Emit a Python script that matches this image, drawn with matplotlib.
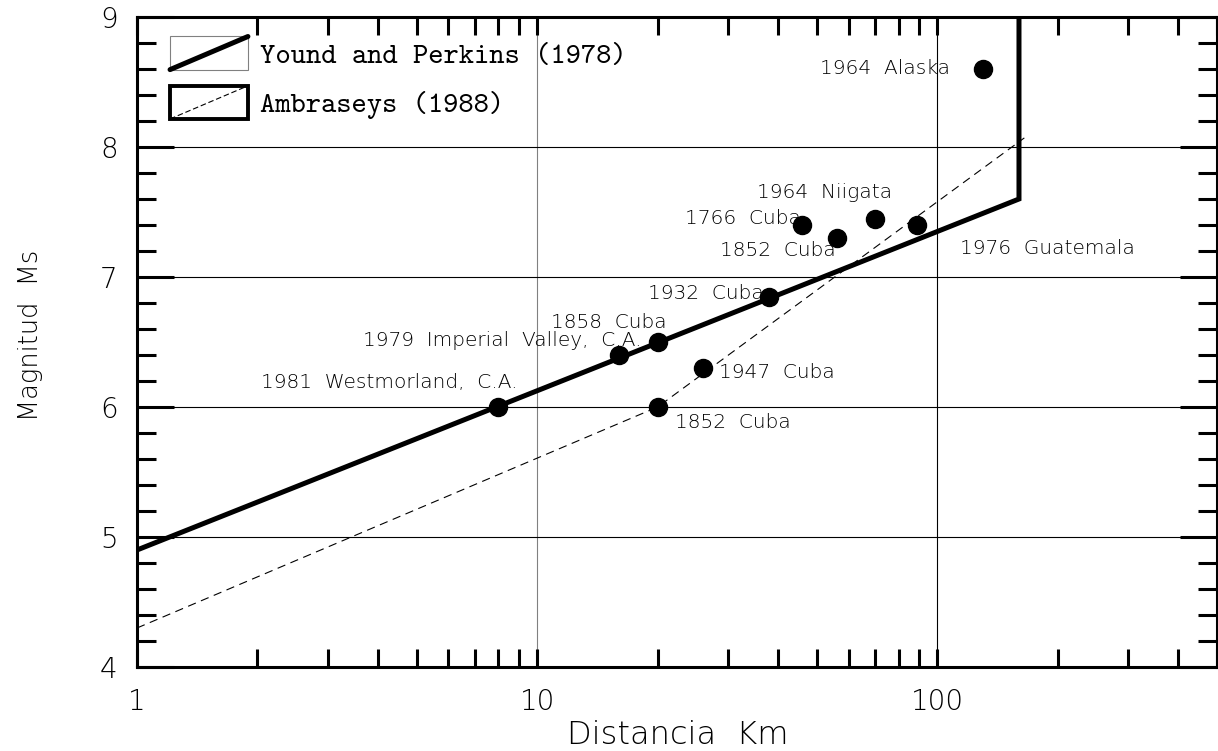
import numpy as np
import matplotlib
matplotlib.use('Agg')
import matplotlib.pyplot as plt
from matplotlib.ticker import MultipleLocator, LogLocator, NullFormatter
from matplotlib.legend_handler import HandlerBase
from matplotlib.patches import Rectangle
from matplotlib.lines import Line2D

# earthquake observations (distance km, magnitude Ms)
quake_names = ['1964  Alaska', '1976  Guatemala', '1964  Niigata', '1852  Cuba',
               '1766  Cuba', '1932  Cuba', '1858  Cuba',
               '1979  Imperial  Valley,  C.A.', '1947  Cuba', '1852  Cuba',
               '1981  Westmorland,  C.A.']
quake_dist = [130, 89, 70, 56, 46, 38, 20, 16, 26, 20, 8]
quake_mag = [8.6, 7.4, 7.45, 7.3, 7.4, 6.85, 6.5, 6.4, 6.3, 6.0, 6.0]

# bounding curves
yp_dist = [1, 160, 160]
yp_mag = [4.9, 7.6, 9.0]
amb_dist = [1, 20, 165]
amb_mag = [4.3, 6.0, 8.07]

legend_labels = ['Yound and Perkins (1978)', 'Ambraseys (1988)']
xtick_vals = [1, 10, 100]
xtick_labels = ['1', '10', '100']

# label placement: (ha, dx px, dy px) relative to the dot
label_place = [('right', -33, 0), ('left', 43, -24), ('left', -118, 26),
               ('left', -117, -12), ('left', -117, 7), ('left', -121, 3),
               ('left', -107, 20), ('right', 23, 15), ('left', 16, -5),
               ('left', 17, -16), ('right', 19, 24)]

plt.rcParams['lines.scale_dashes'] = False
thin = dict(family='DejaVu Sans', fontweight='light', color='black')


class BoxDiagHandler(HandlerBase):
    def __init__(self, box_lw, box_color, line_lw, line_style):
        super().__init__(xpad=0.0, ypad=0.0)
        self.box_lw = box_lw
        self.box_color = box_color
        self.line_lw = line_lw
        self.line_style = line_style

    def create_artists(self, legend, orig_handle, xdescent, ydescent,
                       width, height, fontsize, trans):
        x0, y0 = -xdescent, -ydescent
        rect = Rectangle((x0, y0), width, height, fill=False,
                         edgecolor=self.box_color, lw=self.box_lw, transform=trans)
        line = Line2D([x0, x0 + width], [y0, y0 + height], color='black',
                      lw=self.line_lw, linestyle=self.line_style,
                      solid_capstyle='round', transform=trans)
        return [rect, line]


fig = plt.figure(figsize=(12.18, 7.51), dpi=100)
ax = fig.add_axes([137 / 1218, 84 / 751, 1080 / 1218, 650 / 751])

ax.set_xscale('log')
ax.set_xlim(1, 500)
ax.set_ylim(4, 9)

yp_line, = ax.plot(yp_dist, yp_mag, color='black', lw=3.6, solid_joinstyle='miter')
amb_line, = ax.plot(amb_dist, amb_mag, color='black', lw=0.8, linestyle=(0, (6, 4)))
ax.plot(quake_dist, quake_mag, 'o', color='black', markersize=13, zorder=5)

for name, d, m, (ha, dx, dy) in zip(quake_names, quake_dist, quake_mag, label_place):
    ax.annotate(name, (d, m), xytext=(dx, dy), textcoords='offset pixels',
                ha=ha, va='center', fontsize=14.5, **thin)

# ticks
ax.set_xticks(xtick_vals, labels=xtick_labels)
ax.xaxis.set_minor_locator(LogLocator(base=10, subs=np.arange(2, 10)))
ax.xaxis.set_minor_formatter(NullFormatter())
ax.yaxis.set_major_locator(MultipleLocator(1))
ax.yaxis.set_minor_locator(MultipleLocator(0.2))
ax.tick_params(which='both', direction='in', top=True, right=True, width=2.2)
ax.tick_params(axis='x', which='both', length=13, pad=15, labelsize=20)
ax.tick_params(axis='y', which='major', length=26.5, pad=14, labelsize=20)
ax.tick_params(axis='y', which='minor', length=13.5)
for lab in ax.get_xticklabels() + ax.get_yticklabels():
    lab.set_fontweight('light')

for sp in ax.spines.values():
    sp.set_linewidth(2.2)

ax.grid(True, which='major', color='black', lw=0.8)
ax.xaxis.get_gridlines()[1].set_color('gray')

ax.set_xlabel('Distancia  Km', fontsize=23, va='center', **thin)
ax.xaxis.set_label_coords(0.501, -0.105)
ax.set_ylabel('Magnitud  Ms', fontsize=18.5, va='center', **thin)
ax.yaxis.set_label_coords(-0.099, 0.51)

ax.legend([yp_line, amb_line], legend_labels,
          handler_map={yp_line: BoxDiagHandler(0.8, 'gray', 3.6, '-'),
                       amb_line: BoxDiagHandler(2.8, 'black', 0.8, (0, (4, 2)))},
          loc='upper left', bbox_to_anchor=(0.0306, 0.970), frameon=False,
          prop={'family': 'cmtt10', 'size': 21}, handlelength=2.67, handleheight=1.37,
          handletextpad=0.42, labelspacing=0.55, borderpad=0, borderaxespad=0)

fig.savefig('out.png', dpi=100)
